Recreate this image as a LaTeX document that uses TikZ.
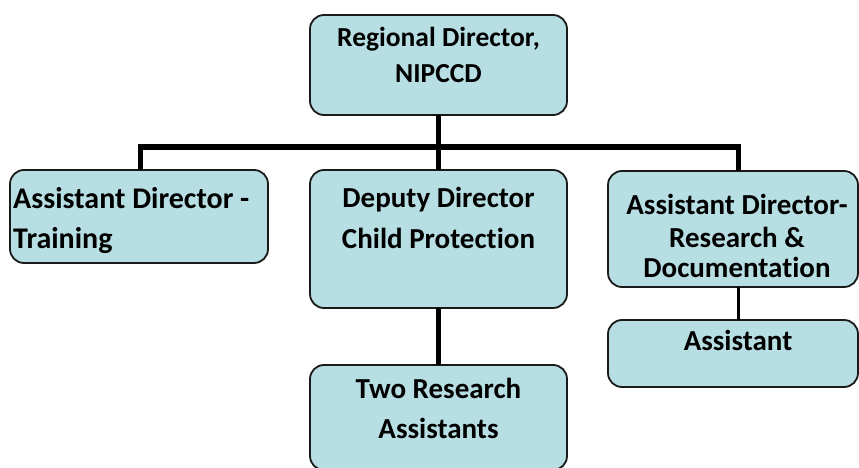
\documentclass[tikz,border=0pt]{standalone}
\usepackage{fontspec}
\setmainfont{Carlito}[Ligatures=NoCommon]
\definecolor{boxfill}{HTML}{B7DEE2}
\definecolor{boxline}{HTML}{1A1A1A}
\begin{document}
\begin{tikzpicture}[x=1pt,y=-1pt,
  orgbox/.style={draw=boxline,line width=1.8pt,fill=boxfill,rounded corners=14pt,inner sep=0pt},
  lbl/.style={font=\bfseries\fontsize{29}{33}\selectfont,inner sep=0pt,anchor=base},
  conn/.style={line width=5pt},
  thinconn/.style={line width=3pt}]
\useasboundingbox (0,0) rectangle (859,468);
% boxes
\path[orgbox] (310,15) rectangle (567,115) node[pos=0.5] (top) {};
\path[orgbox] (10,170) rectangle (268,263) node[pos=0.5] (left) {};
\path[orgbox] (310,170) rectangle (567,308) node[pos=0.5] (mid) {};
\path[orgbox] (310,365) rectangle (567,470) node[pos=0.5] (bot) {};
\path[orgbox] (608,171) rectangle (858,287) node[pos=0.5] (right) {};
\path[orgbox] (608,320) rectangle (858,387) node[pos=0.5] (asst) {};
% connector points
\coordinate (topb) at (438.5,115);
\coordinate (bar) at (438.5,147);
\coordinate (barL) at (140,147);
\coordinate (barR) at (738,147);
\coordinate (leftt) at (140,170);
\coordinate (midt) at (438.5,170);
\coordinate (rightt) at (738,171);
\coordinate (midb) at (438.5,308);
\coordinate (bott) at (438.5,365);
\coordinate (rightb) at (738,287);
\coordinate (asstt) at (738,320);
\draw[conn] (topb) -- (bar);
\draw[conn] (leftt) -- (barL) -- (barR) -- (rightt);
\draw[conn] (bar) -- (midt);
\draw[conn] (midb) -- (bott);
\draw[thinconn] (rightb) -- (asstt);
% text
\node[lbl,font=\bfseries\fontsize{27.5}{30}\selectfont] (ttop1) at (438.5,47) {Regional Director,};
\node[lbl,font=\bfseries\fontsize{27.5}{30}\selectfont] (ttop2) at (438.5,83) {NIPCCD};
\node[lbl,font=\bfseries\fontsize{30}{34}\selectfont,anchor=base west] (tleft1) at (13,208) {Assistant Director -};
\node[lbl,font=\bfseries\fontsize{30}{34}\selectfont,anchor=base west] (tleft2) at (13,248) {Training};
\node[lbl] (tmid1) at (438.5,207) {Deputy Director};
\node[lbl] (tmid2) at (438.5,248) {Child Protection};
\node[lbl] (tright1) at (737,214) {Assistant Director-};
\node[lbl] (tright2) at (737,247) {Research \&};
\node[lbl] (tright3) at (737,277) {Documentation};
\node[lbl] (tasst) at (738,350) {Assistant};
\node[lbl] (tbot1) at (438.5,398) {Two Research};
\node[lbl] (tbot2) at (438.5,438) {Assistants};
\end{tikzpicture}
\end{document}
